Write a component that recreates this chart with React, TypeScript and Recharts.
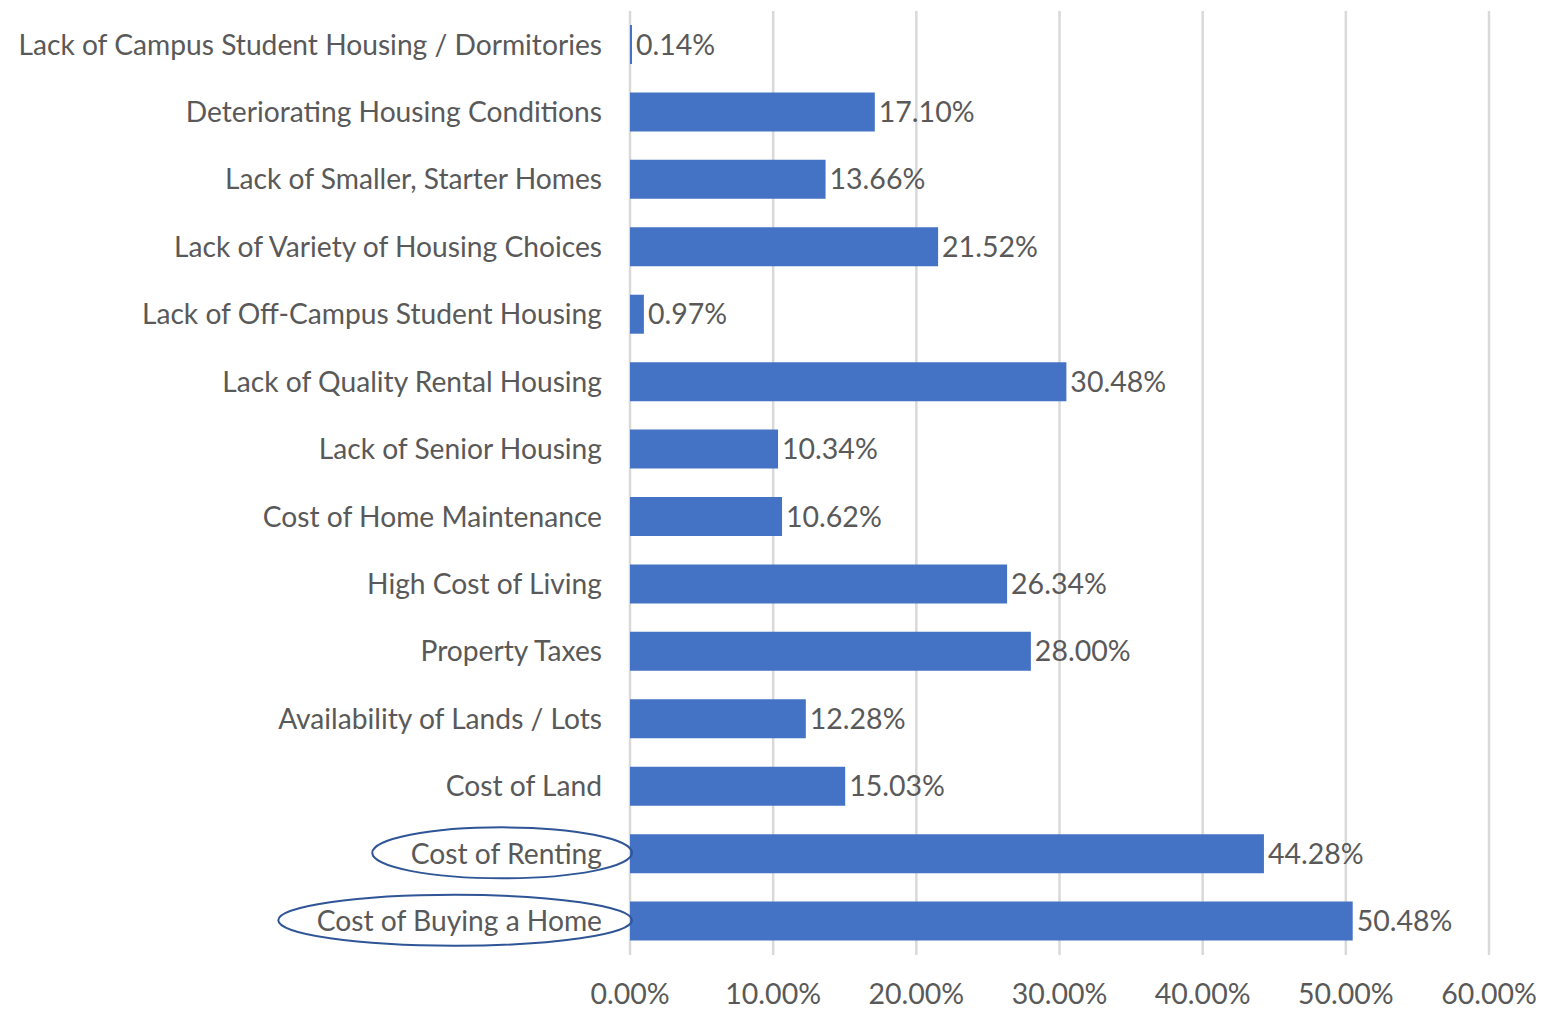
import { BarChart, Bar, XAxis, YAxis, CartesianGrid, LabelList } from "recharts";

const categories = [
  "Lack of Campus Student Housing / Dormitories",
  "Deteriorating Housing Conditions",
  "Lack of Smaller, Starter Homes",
  "Lack of Variety of Housing Choices",
  "Lack of Off-Campus Student Housing",
  "Lack of Quality Rental Housing",
  "Lack of Senior Housing",
  "Cost of Home Maintenance",
  "High Cost of Living",
  "Property Taxes",
  "Availability of Lands / Lots",
  "Cost of Land",
  "Cost of Renting",
  "Cost of Buying a Home",
];

const shares = [0.14, 17.1, 13.66, 21.52, 0.97, 30.48, 10.34, 10.62, 26.34, 28.0, 12.28, 15.03, 44.28, 50.48];

const xTicks = [0, 10, 20, 30, 40, 50, 60];

// labels circled in the original slide
const highlighted = ["Cost of Renting", "Cost of Buying a Home"];

const FONT = "Lato, 'Liberation Sans', sans-serif";
const CAT_SIZE = 28.2;
const NUM_SIZE = 28.5;
const TEXT = "#595959";

const data = categories.map((name, i) => ({ name, value: shares[i] }));

const pct = (v: number) => `${v.toFixed(2)}%`;

let ctx: CanvasRenderingContext2D | null = null;
function textWidth(s: string) {
  if (!ctx) ctx = document.createElement("canvas").getContext("2d");
  if (!ctx) return s.length * CAT_SIZE * 0.5;
  ctx.font = `${CAT_SIZE}px ${FONT}`;
  return ctx.measureText(s).width;
}

function CategoryTick(props: any) {
  const { x, y, payload } = props;
  const label = payload.value as string;
  const circled = highlighted.includes(label);
  const w = circled ? textWidth(label) : 0;
  return (
    <g>
      {circled && (
        <ellipse
          cx={x - w / 2 - 4}
          cy={y - 1}
          rx={w / 2 + 34}
          ry={25.5}
          fill="none"
          stroke="#2F5597"
          strokeWidth={2}
        />
      )}
      <text x={x} y={y} dy="0.35em" textAnchor="end" fill={TEXT} fontSize={CAT_SIZE} fontFamily={FONT}>
        {label}
      </text>
    </g>
  );
}

export default function App() {
  return (
    <div style={{ position: "absolute", left: 0, top: 0, background: "#fff" }}>
      <BarChart
        width={1549}
        height={1011}
        data={data}
        layout="vertical"
        margin={{ top: 11, right: 60, bottom: 0, left: 0 }}
        barSize={39}
      >
        <CartesianGrid horizontal={false} stroke="#D9D9D9" strokeWidth={2.5} />
        <XAxis
          type="number"
          domain={[0, 60]}
          ticks={xTicks}
          tickFormatter={pct}
          axisLine={false}
          tickLine={false}
          tickSize={0}
          tickMargin={29}
          height={56}
          tick={{ fill: TEXT, fontSize: NUM_SIZE, fontFamily: FONT }}
        />
        <YAxis
          type="category"
          dataKey="name"
          width={630}
          axisLine={false}
          tickLine={false}
          tickSize={0}
          tickMargin={28}
          interval={0}
          tick={<CategoryTick />}
        />
        <Bar dataKey="value" fill="#4472C4" isAnimationActive={false}>
          <LabelList
            dataKey="value"
            position="right"
            offset={4}
            formatter={(v: any) => pct(Number(v))}
            fill={TEXT}
            fontSize={NUM_SIZE}
            fontFamily={FONT}
          />
        </Bar>
      </BarChart>
    </div>
  );
}
